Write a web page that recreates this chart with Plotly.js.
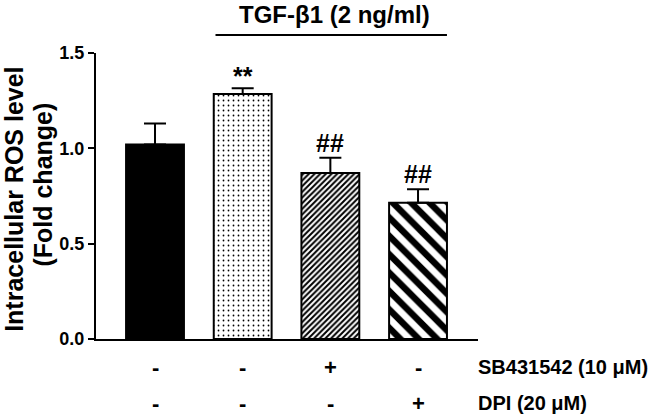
<!DOCTYPE html>
<html>
<head>
<meta charset="utf-8">
<script src="https://cdn.plot.ly/plotly-3.0.1.min.js"></script>
<style>
  body { margin: 0; background: #fff; }
  #chart { width: 657px; height: 418px; }
</style>
</head>
<body>
<div id="chart"></div>
<script>
// grupos (columnas)
const grupos = [0, 1, 2, 3];
const medias = [1.02, 1.285, 0.87, 0.715];
const errores = [0.11, 0.03, 0.08, 0.07];
const marcas = ["", "**", "##", "##"];
const sb431542 = ["-", "-", "+", "-"];
const dpi = ["-", "-", "-", "+"];
const etiquetasFila = ["SB431542 (10 \u03bcM)", "DPI (20 \u03bcM)"];
const tituloGrupo = "TGF-\u03b21 (2 ng/ml)";
const tituloY = ["Intracellular ROS level", "(Fold change)"];

// relleno de cada barra
const rellenos = [
    { color: 'black', shape: '', size: 8, solidity: 0.3 },
    { color: 'white', shape: '.', size: 5, solidity: 0.1 },
    { color: 'white', shape: '/', size: 4, solidity: 0.5 },
    { color: 'white', shape: '\\', size: 13, solidity: 0.5 }
];

const fuente = "Liberation Sans, Arial, sans-serif";
const negrita = t => '<b>' + t + '</b>';

// una traza por barra para que cada una tenga su trama
const trazas = grupos.map((g, i) => ({
    x: [g],
    y: [medias[i]],
    type: 'bar',
    width: 0.66,
    marker: {
        color: rellenos[i].color,
        line: { color: 'black', width: 2 },
        pattern: {
            shape: rellenos[i].shape,
            size: rellenos[i].size,
            solidity: rellenos[i].solidity,
            fgcolor: 'black'
        }
    },
    error_y: {
        type: 'data',
        symmetric: false,
        array: [errores[i]],
        arrayminus: [0],
        color: 'black',
        thickness: 2,
        width: 11
    },
    hoverinfo: 'none'
}));

const anotaciones = [];

// ** y ## sobre las barras
grupos.forEach((g, i) => {
    if (marcas[i]) {
        anotaciones.push({
            x: g, y: medias[i] + errores[i], xref: 'x', yref: 'y',
            text: negrita(marcas[i]), showarrow: false, yanchor: 'bottom',
            yshift: marcas[i] === '**' ? -4 : -1,
            font: { family: fuente, size: 25, color: 'black' }
        });
    }
});

// filas de +/- debajo del eje
grupos.forEach((g, i) => {
    anotaciones.push({
        x: g, y: -0.098, xref: 'x', yref: 'paper', text: negrita(sb431542[i]),
        showarrow: false, yanchor: 'middle', font: { family: fuente, size: 22, color: 'black' }
    });
    anotaciones.push({
        x: g, y: -0.224, xref: 'x', yref: 'paper', text: negrita(dpi[i]),
        showarrow: false, yanchor: 'middle', font: { family: fuente, size: 22, color: 'black' }
    });
});

etiquetasFila.forEach((t, k) => {
    anotaciones.push({
        x: 0.995, y: k === 0 ? -0.098 : -0.224, xref: 'paper', yref: 'paper', text: negrita(t),
        xanchor: 'left', yanchor: 'middle', showarrow: false,
        font: { family: fuente, size: 20, color: 'black' }
    });
});

anotaciones.push({
    x: 2.05, y: 1.133, xref: 'x', yref: 'paper', text: negrita(tituloGrupo),
    yanchor: 'middle', showarrow: false, font: { family: fuente, size: 24, color: 'black' }
});

// titulo del eje y en dos lineas
tituloY.forEach((t, k) => {
    anotaciones.push({
        x: k === 0 ? -0.2147 : -0.1387, y: k === 0 ? 0.49 : 0.54, xref: 'paper', yref: 'paper',
        text: negrita(t), textangle: -90, xanchor: 'center', yanchor: 'middle',
        showarrow: false, font: { family: fuente, size: 25, color: 'black' }
    });
});

const layout = {
    width: 657,
    height: 418,
    margin: { l: 96, r: 179, t: 53, b: 79 },
    paper_bgcolor: 'white',
    plot_bgcolor: 'white',
    showlegend: false,
    barmode: 'overlay',
    font: { family: fuente, color: 'black' },
    xaxis: {
        range: [-0.673, 3.684],
        showticklabels: false,
        ticks: '',
        showline: true,
        linecolor: 'black',
        linewidth: 2,
        showgrid: false,
        zeroline: false,
        fixedrange: true
    },
    yaxis: {
        range: [0, 1.5],
        tickvals: [0, 0.5, 1.0, 1.5],
        ticktext: ['0.0', '0.5', '1.0', '1.5'].map(negrita),
        ticks: 'outside',
        ticklen: 6,
        tickwidth: 2,
        tickcolor: 'black',
        showline: true,
        linecolor: 'black',
        linewidth: 2,
        showgrid: false,
        zeroline: false,
        tickfont: { family: fuente, size: 18, color: 'black' }
    },
    shapes: [{
        type: 'line', xref: 'x', yref: 'paper',
        x0: 0.69, x1: 3.33, y0: 1.063, y1: 1.063,
        line: { color: 'black', width: 2 }
    }],
    annotations: anotaciones
};

Plotly.newPlot('chart', trazas, layout, { displayModeBar: false });
</script>
</body>
</html>
